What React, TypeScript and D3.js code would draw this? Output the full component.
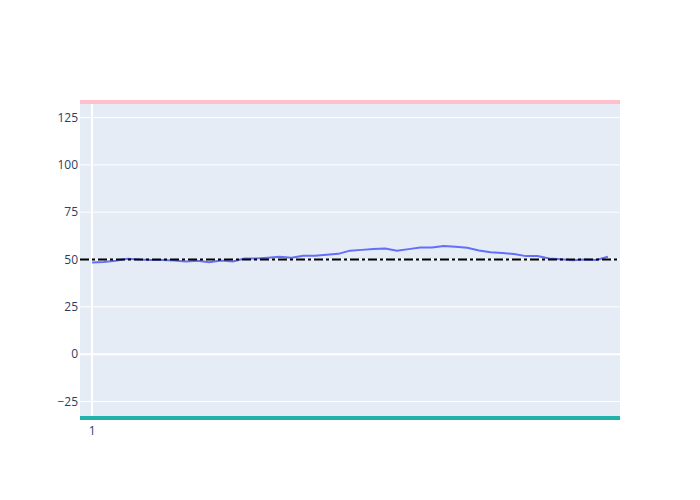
import { useEffect, useRef } from "react";
import * as d3 from "d3";

const values = [48.4, 48.7, 49.3, 50.4, 50, 49.8, 49.7, 49.5, 49, 49.4, 48.6, 49.5, 49, 50.5, 50.6, 51, 51.5, 51, 52, 52, 52.5, 53, 54.7, 55.1, 55.5, 55.8, 54.7, 55.5, 56.4, 56.4, 57.2, 56.8, 56.2, 54.8, 53.8, 53.5, 52.9, 51.8, 51.8, 50.5, 50.2, 49.6, 50, 49.8, 51.5];
const yTicks = [-25, 0, 25, 50, 75, 100, 125];
const xTicks = [1];
const refLevel = 50;

const App = () => {
  const ref = useRef<SVGSVGElement>(null);

  useEffect(() => {
    const width = 700;
    const height = 500;
    const m = { left: 80, right: 80, top: 100, bottom: 80 };
    const svg = d3.select(ref.current);
    svg.selectAll("*").remove();

    const x = d3.scaleLinear().domain([-0.03, values.length + 1.03]).range([m.left, width - m.right]);
    const y = d3.scaleLinear().domain([-34.8, 134.3]).range([height - m.bottom, m.top]);

    svg.append("rect").attr("width", width).attr("height", height).attr("fill", "white");
    svg.append("rect")
      .attr("x", m.left).attr("y", m.top)
      .attr("width", width - m.left - m.right).attr("height", height - m.top - m.bottom)
      .attr("fill", "#E5ECF6");

    // grid
    svg.append("g").selectAll("line").data(yTicks).join("line")
      .attr("x1", m.left).attr("x2", width - m.right)
      .attr("y1", d => y(d)).attr("y2", d => y(d))
      .attr("stroke", "white").attr("stroke-width", d => (d === 0 ? 2 : 1));
    svg.append("g").selectAll("line").data(xTicks).join("line")
      .attr("x1", d => x(d)).attr("x2", d => x(d))
      .attr("y1", m.top).attr("y2", height - m.bottom)
      .attr("stroke", "white").attr("stroke-width", 2);

    // tick labels
    svg.append("g").selectAll("text").data(yTicks).join("text")
      .attr("x", m.left - 2).attr("y", d => y(d)).attr("dy", "0.35em")
      .attr("text-anchor", "end")
      .attr("font-family", "'Open Sans', sans-serif").attr("font-size", 12).attr("fill", "#2a3f5f")
      .text(d => (d < 0 ? `\u2212${-d}` : `${d}`));
    svg.append("g").selectAll("text").data(xTicks).join("text")
      .attr("x", d => x(d)).attr("y", height - m.bottom + 15)
      .attr("text-anchor", "middle")
      .attr("font-family", "'Open Sans', sans-serif").attr("font-size", 12).attr("fill", "#2a3f5f")
      .text(d => `${d}`);

    // series
    const line = d3.line<number>().x((_, i) => x(i + 1)).y(d => y(d));
    svg.append("path").datum(values)
      .attr("d", line).attr("fill", "none").attr("stroke", "#636efa").attr("stroke-width", 2);

    // reference line
    svg.append("line")
      .attr("x1", m.left).attr("x2", width - m.right)
      .attr("y1", y(refLevel)).attr("y2", y(refLevel))
      .attr("stroke", "black").attr("stroke-width", 2)
      .attr("stroke-dasharray", "9,3,3,3");

    // edge bands
    svg.append("line")
      .attr("x1", m.left).attr("x2", width - m.right)
      .attr("y1", m.top + 2).attr("y2", m.top + 2)
      .attr("stroke", "pink").attr("stroke-width", 4);
    svg.append("line")
      .attr("x1", m.left).attr("x2", width - m.right)
      .attr("y1", height - m.bottom - 2).attr("y2", height - m.bottom - 2)
      .attr("stroke", "lightseagreen").attr("stroke-width", 4);
  }, []);

  return <svg ref={ref} width={700} height={500} style={{ display: "block", margin: -8 }} />;
};

export default App;
